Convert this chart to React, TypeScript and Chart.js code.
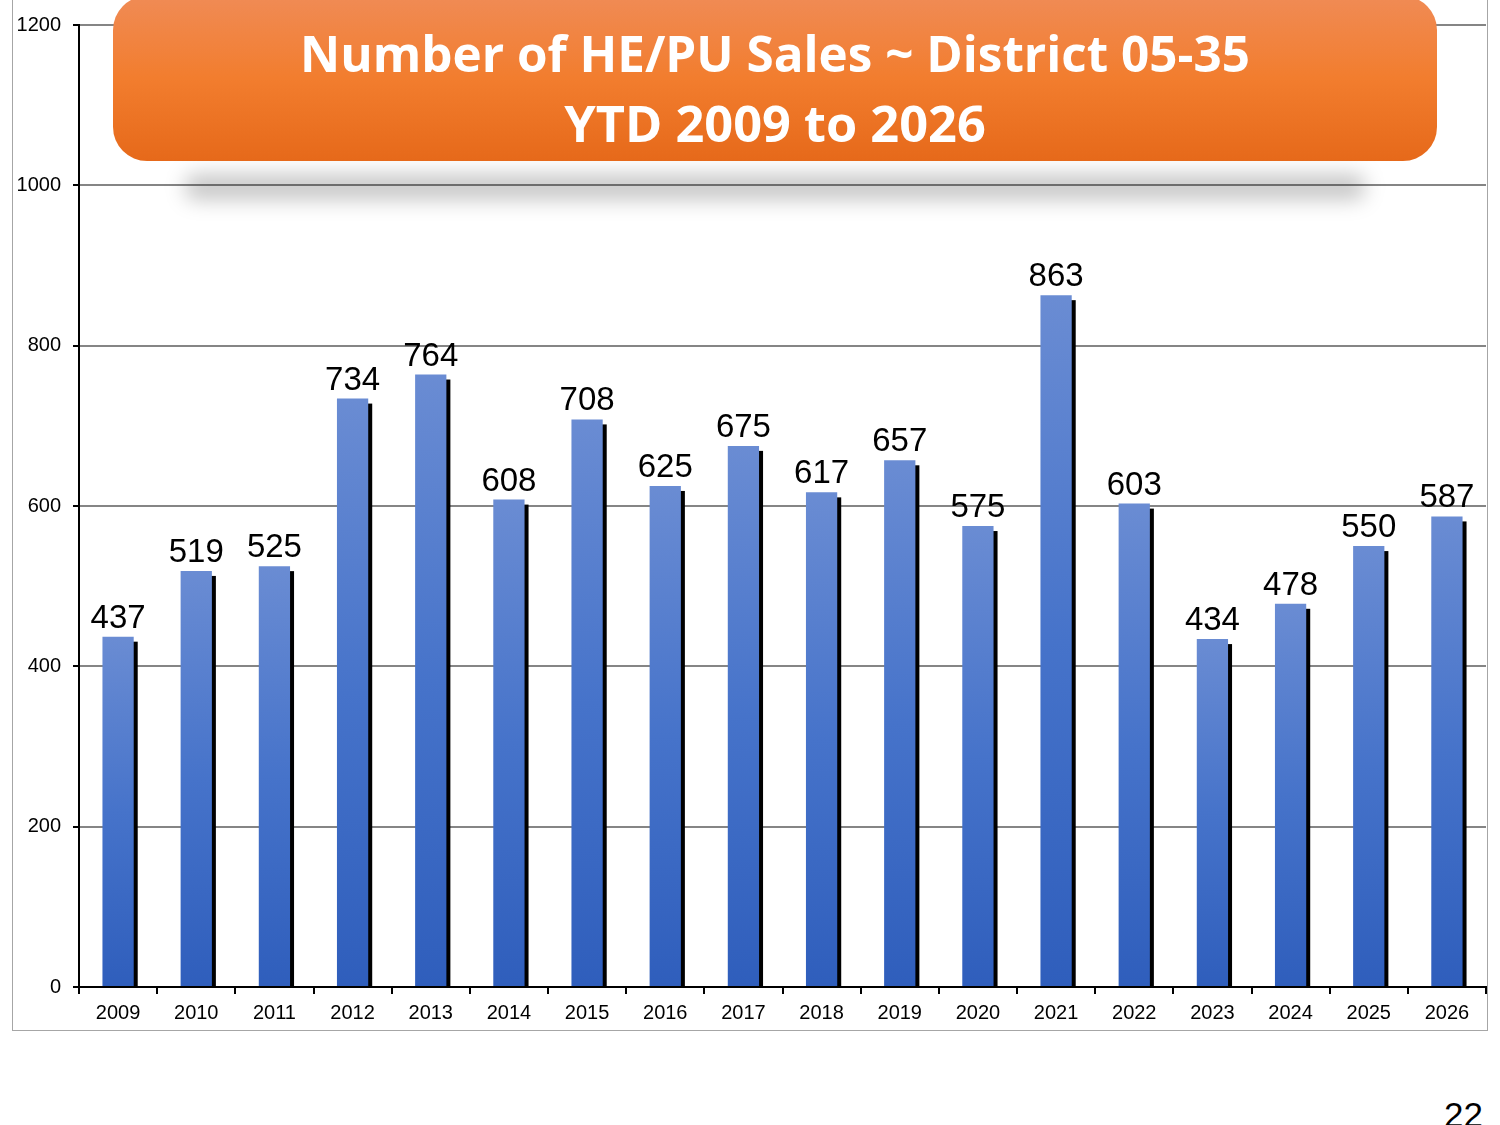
import React, { useEffect, useRef } from "react";
import { Chart, registerables } from "chart.js";

Chart.register(...registerables);

const years = ["2009", "2010", "2011", "2012", "2013", "2014", "2015", "2016", "2017", "2018", "2019", "2020", "2021", "2022", "2023", "2024", "2025", "2026"];
const sales = [437, 519, 525, 734, 764, 608, 708, 625, 675, 617, 657, 575, 863, 603, 434, 478, 550, 587];
const yTicks = [0, 200, 400, 600, 800, 1000, 1200];
const titleLines = ["Number of HE/PU Sales ~ District 05-35", "YTD 2009 to 2026"];
const pageNumber = "22";

const FONT = "'Liberation Sans', Arial, sans-serif";

const barShadow = {
  id: "barShadow",
  beforeDatasetsDraw(chart: any) {
    const ctx = chart.ctx;
    const meta = chart.getDatasetMeta(0);
    ctx.save();
    ctx.fillStyle = "#000000";
    meta.data.forEach((el: any) => {
      const { x, y, base, width } = el.getProps(["x", "y", "base", "width"], true);
      ctx.fillRect(x - width / 2 + 4, y + 5, width, base - y - 5);
    });
    ctx.restore();
  },
};

const valueLabels = {
  id: "valueLabels",
  afterDatasetsDraw(chart: any) {
    const ctx = chart.ctx;
    const meta = chart.getDatasetMeta(0);
    const data = chart.data.datasets[0].data;
    ctx.save();
    ctx.fillStyle = "#000000";
    ctx.font = `33px ${FONT}`;
    ctx.textAlign = "center";
    ctx.textBaseline = "alphabetic";
    meta.data.forEach((el: any, i: number) => {
      const { x, y } = el.getProps(["x", "y"], true);
      ctx.fillText(String(data[i]), x, y - 9);
    });
    ctx.restore();
  },
};

export default function App() {
  const canvasRef = useRef<HTMLCanvasElement | null>(null);

  useEffect(() => {
    if (!canvasRef.current) return;
    const chart = new Chart(canvasRef.current, {
      type: "bar",
      data: {
        labels: years,
        datasets: [
          {
            data: sales,
            barPercentage: 0.4,
            categoryPercentage: 1,
            borderWidth: 0,
            backgroundColor: (c: any) => {
              const ch = c.chart;
              const area = ch.chartArea;
              if (!area || c.type !== "data" || !ch.scales.y) return "#4472c4";
              const y = ch.scales.y.getPixelForValue(c.raw);
              const g = ch.ctx.createLinearGradient(0, y, 0, area.bottom);
              g.addColorStop(0, "#6a8cd3");
              g.addColorStop(0.5, "#4673ca");
              g.addColorStop(1, "#2f5ebc");
              return g;
            },
          },
        ],
      },
      options: {
        animation: false,
        responsive: true,
        maintainAspectRatio: false,
        layout: { padding: { top: 25, right: 1, left: 0, bottom: 0 } },
        plugins: {
          legend: { display: false },
          title: { display: false },
          tooltip: { enabled: false },
        },
        scales: {
          x: {
            afterFit: (s: any) => {
              s.height = 43;
            },
            grid: {
              display: true,
              drawOnChartArea: false,
              drawTicks: true,
              tickLength: 7,
              tickColor: "#000000",
              lineWidth: 2,
              offset: true,
            },
            border: { display: true, color: "#000000", width: 2 },
            ticks: {
              color: "#000000",
              font: { family: FONT, size: 20 },
              padding: 7,
              maxRotation: 0,
              autoSkip: false,
            },
          },
          y: {
            min: yTicks[0],
            max: yTicks[yTicks.length - 1],
            afterFit: (s: any) => {
              s.width = 66;
            },
            grid: {
              color: "#858585",
              lineWidth: 2,
              tickLength: 6,
              tickColor: "#000000",
            },
            border: { display: true, color: "#000000", width: 2 },
            ticks: {
              stepSize: yTicks[1] - yTicks[0],
              color: "#000000",
              font: { family: FONT, size: 20 },
              padding: 12,
              callback: (v: any) => String(v),
            },
          },
        },
      },
      plugins: [barShadow, valueLabels],
    });
    return () => chart.destroy();
  }, []);

  return (
    <div style={{ position: "absolute", left: 0, top: 0, width: 1500, height: 1125, overflow: "hidden", background: "#ffffff" }}>
      <div
        style={{
          position: "absolute",
          left: 12,
          top: -2,
          width: 1476,
          height: 1033,
          border: "1px solid #a6a6a6",
          boxSizing: "border-box",
        }}
      />
      <div style={{ position: "absolute", left: 13, top: 0, width: 1474, height: 1030 }}>
        <canvas ref={canvasRef} />
      </div>
      <div
        style={{
          position: "absolute",
          left: 185,
          top: 174,
          width: 1180,
          height: 26,
          background: "rgba(0,0,0,0.22)",
          filter: "blur(10px)",
          borderRadius: 10,
        }}
      />
      <div
        style={{
          position: "absolute",
          left: 113,
          top: -4,
          width: 1324,
          height: 165,
          borderRadius: 34,
          background: "linear-gradient(to bottom, #f08b55 0%, #f27d2e 50%, #e6691a 100%)",
          color: "#ffffff",
          fontFamily: "'Open Sans', sans-serif",
          fontWeight: 700,
        }}
      >
        <div style={{ position: "absolute", left: 0, width: "100%", top: 31.8, fontSize: 49.4, lineHeight: "50px", textAlign: "center", whiteSpace: "nowrap" }}>
          {titleLines[0]}
        </div>
        <div style={{ position: "absolute", left: 0, width: "100%", top: 101.6, fontSize: 50.5, lineHeight: "50px", textAlign: "center", whiteSpace: "nowrap" }}>
          {titleLines[1]}
        </div>
      </div>
      <div
        style={{
          position: "absolute",
          left: 1383,
          top: 1097,
          width: 100,
          textAlign: "right",
          fontFamily: FONT,
          fontSize: 35,
          lineHeight: "35px",
          color: "#000000",
        }}
      >
        {pageNumber}
      </div>
    </div>
  );
}
